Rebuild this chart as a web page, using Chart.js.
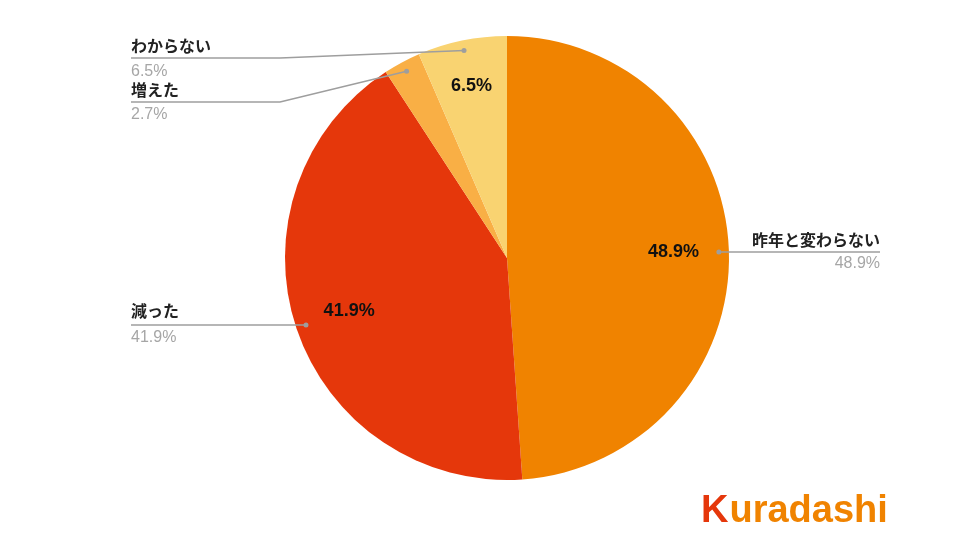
<!DOCTYPE html>
<html>
<head>
<meta charset="utf-8">
<script src="https://cdn.jsdelivr.net/npm/chart.js@4"></script>
<style>
  body { margin: 0; background: #fff; }
  #wrap { width: 960px; height: 540px; position: relative; }
</style>
</head>
<body>
<div id="wrap"><canvas id="canvas"></canvas></div>
<script>
const labels = ['昨年と変わらない', '減った', '増えた', 'わからない'];
const values = [48.9, 41.9, 2.7, 6.5];
const pctText = ['48.9%', '41.9%', '2.7%', '6.5%'];
const colors = ['#F08300', '#E5370B', '#F9AF45', '#F9D371'];

const FONT = '"Liberation Sans", "Noto Sans CJK JP", sans-serif';

// where each outside label sits, and how its leader line bends
const callouts = [
  { x: 880, align: 'right', textY: 242, lineY: 252, pctY: 264, lineFrom: 880 },
  { x: 131, align: 'left', textY: 313, lineY: 325, pctY: 338, lineFrom: 131 },
  { x: 131, align: 'left', textY: 92, lineY: 102, pctY: 115, lineFrom: 131, elbow: 280 },
  { x: 131, align: 'left', textY: 48, lineY: 58, pctY: 72, lineFrom: 131, elbow: 280 }
];

const labelPlugin = {
  id: 'pieLabels',
  afterDraw(chart) {
    const c = chart.ctx;
    const meta = chart.getDatasetMeta(0);
    c.save();
    meta.data.forEach((arc, i) => {
      const p = arc.getProps(['x', 'y', 'startAngle', 'endAngle', 'outerRadius'], true);
      const mid = (p.startAngle + p.endAngle) / 2;
      const share = values[i] / values.reduce((a, b) => a + b, 0);

      // percent inside the slice
      if (share > 0.05) {
        const k = share < 0.1 ? 0.79 : 0.75;
        c.font = 'bold 18px ' + FONT;
        c.fillStyle = '#111';
        c.textAlign = 'center';
        c.textBaseline = 'middle';
        c.fillText(pctText[i], p.x + Math.cos(mid) * p.outerRadius * k,
                   p.y + Math.sin(mid) * p.outerRadius * k);
      }

      // leader line + dot
      const dx = p.x + Math.cos(mid) * p.outerRadius * 0.955;
      const dy = p.y + Math.sin(mid) * p.outerRadius * 0.955;
      const co = callouts[i];
      c.strokeStyle = '#9e9e9e';
      c.lineWidth = 1.5;
      c.beginPath();
      c.moveTo(co.lineFrom, co.lineY);
      if (co.elbow) c.lineTo(co.elbow, co.lineY);
      c.lineTo(dx, co.elbow ? dy : co.lineY);
      c.stroke();
      c.fillStyle = '#9e9e9e';
      c.beginPath();
      c.arc(dx, co.elbow ? dy : co.lineY, 2.5, 0, Math.PI * 2);
      c.fill();

      // category + percent text
      c.textAlign = co.align;
      c.textBaseline = 'middle';
      c.font = 'bold 16px ' + FONT;
      c.fillStyle = '#222';
      c.fillText(labels[i], co.x, co.textY);
      c.font = '16px ' + FONT;
      c.fillStyle = '#a6a6a6';
      c.fillText(pctText[i], co.x, co.pctY);
    });

    // logo
    c.font = 'bold 38px ' + FONT;
    c.textAlign = 'left';
    c.textBaseline = 'alphabetic';
    c.fillStyle = '#E5370B';
    c.fillText('K', 701, 522);
    const kw = c.measureText('K').width;
    c.fillStyle = '#F08300';
    c.fillText('uradashi', 701 + kw + 1, 522);
    c.restore();
  }
};

new Chart(document.getElementById('canvas').getContext('2d'), {
  type: 'pie',
  data: {
    labels: labels,
    datasets: [{
      data: values,
      backgroundColor: colors,
      borderWidth: 0
    }]
  },
  options: {
    responsive: true,
    maintainAspectRatio: false,
    animation: false,
    layout: { padding: { top: 36, bottom: 60, left: 285, right: 231 } },
    plugins: {
      legend: { display: false },
      tooltip: { enabled: false }
    }
  },
  plugins: [labelPlugin]
});
</script>
</body>
</html>
